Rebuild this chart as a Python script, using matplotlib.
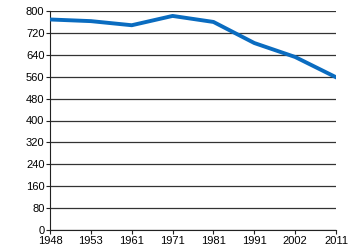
import matplotlib.pyplot as plt

years = ["1948", "1953", "1961", "1971", "1981", "1991", "2002", "2011"]
values = [769, 763, 748, 782, 760, 683, 632, 558]
y_ticks = [0, 80, 160, 240, 320, 400, 480, 560, 640, 720, 800]

plt.rcParams['font.family'] = ['Liberation Sans', 'DejaVu Sans']

fig = plt.figure(figsize=(3.5, 2.5), dpi=100)
ax = fig.add_axes([0.143, 0.08, 0.817, 0.876])

x = list(range(len(years)))
ax.plot(x, values, color="#0a6cc0", linewidth=2.8, solid_joinstyle="round", zorder=3)

ax.set_xlim(0, len(years) - 1)
ax.set_ylim(0, 800)
ax.set_yticks(y_ticks)
ax.set_xticks(x)
ax.set_xticklabels(years)
ax.yaxis.grid(True, color="#333333", linewidth=0.9)
ax.set_axisbelow(True)

for side in ["top", "right"]:
    ax.spines[side].set_visible(False)
for side in ["left", "bottom"]:
    ax.spines[side].set_color("#222222")

ax.tick_params(axis="both", labelsize=8, length=3, width=0.8, color="#222222", pad=1)

fig.savefig("out.png", dpi=100)
